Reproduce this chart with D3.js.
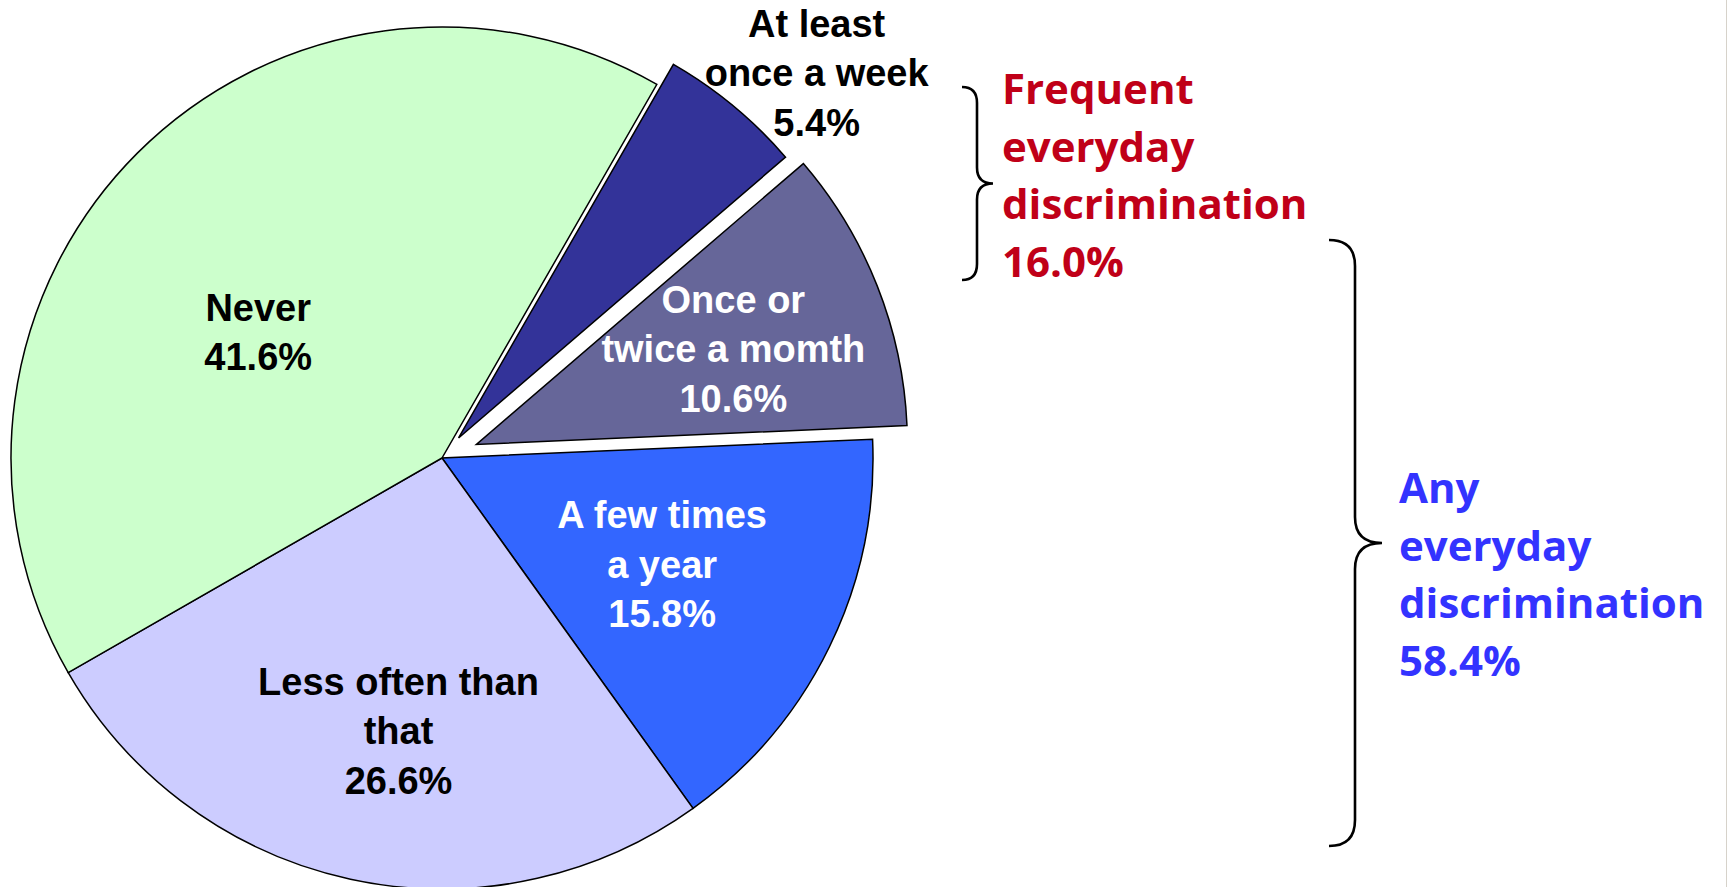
<!DOCTYPE html>
<html>
<head>
<meta charset="utf-8">
<script src="https://cdn.jsdelivr.net/npm/d3@7/dist/d3.min.js"></script>
<style>
  html, body { margin: 0; padding: 0; background: #ffffff; }
  svg { display: block; }
</style>
</head>
<body>
<script>
// Frequency of everyday discrimination (percent of respondents)
const categories = ["A few times a year", "Less often than that", "Never", "At least once a week", "Once or twice a momth"];
const values = [15.8, 26.6, 41.6, 5.4, 10.6];
const sliceLines = [
  ["A few times", "a year"],
  ["Less often than", "that"],
  ["Never"],
  ["At least", "once a week"],
  ["Once or", "twice a momth"]
];
const sliceColors = ["#3366FF", "#CCCCFF", "#CCFFCC", "#333399", "#666699"];
const sliceTextColors = ["#FFFFFF", "#000000", "#000000", "#000000", "#FFFFFF"];
// Group annotations: which categories each brace summarises
const frequentGroup = ["At least once a week", "Once or twice a momth"];
const anyGroup = ["A few times a year", "Less often than that", "At least once a week", "Once or twice a momth"];

const W = 1727, H = 887;
const cx = 442, cy = 458, R = 431;
const startDeg = 87.5;
// explode distance (px) for pulled-out slices
const explode = [0, 0, 0, 26, 37];
// label placement: [radius fraction, angle shift in degrees]
const labelPlace = [[0.567, -0.2], [0.641, -3.2], [0.517, -10.6], [1.187, 4.8], [0.636, 1.2]];

const svg = d3.select("body").append("svg").attr("width", W).attr("height", H);

const pie = d3.pie().sort(null).value(d => d)
  .startAngle(startDeg * Math.PI / 180)
  .endAngle(startDeg * Math.PI / 180 + 2 * Math.PI);
const arcs = pie(values);
const arc = d3.arc().innerRadius(0).outerRadius(R);

const g = svg.append("g").attr("transform", `translate(${cx},${cy})`);

function offsetOf(d, i) {
  const mid = (d.startAngle + d.endAngle) / 2;
  return [Math.sin(mid) * explode[i], -Math.cos(mid) * explode[i]];
}

g.selectAll("path.slice")
  .data(arcs)
  .join("path")
  .attr("class", "slice")
  .attr("d", arc)
  .attr("transform", (d, i) => { const o = offsetOf(d, i); return `translate(${o[0]},${o[1]})`; })
  .attr("fill", (d, i) => sliceColors[i])
  .attr("stroke", "#000")
  .attr("stroke-width", 1.5)
  .attr("stroke-linejoin", "miter");

// slice labels
const fs = 38, lh = 49.5;
arcs.forEach((d, i) => {
  const o = offsetOf(d, i);
  const a = (d.startAngle + d.endAngle) / 2 + labelPlace[i][1] * Math.PI / 180;
  const rr = R * labelPlace[i][0];
  const x = o[0] + Math.sin(a) * rr;
  const y = o[1] - Math.cos(a) * rr;
  const lines = sliceLines[i].concat([values[i].toFixed(1) + "%"]);
  const t = g.append("text")
    .attr("text-anchor", "middle")
    .attr("font-family", "'Liberation Sans', Arial, sans-serif")
    .attr("font-weight", "bold")
    .attr("font-size", fs)
    .attr("fill", sliceTextColors[i]);
  lines.forEach((ln, k) => {
    t.append("tspan")
      .attr("x", x)
      .attr("y", y + (k - (lines.length - 1) / 2) * lh + fs * 0.355)
      .text(ln);
  });
});

// curly brace helper
function brace(xEnd, xBar, xTip, yTop, yBot, rad) {
  const ym = (yTop + yBot) / 2;
  return `M${xEnd},${yTop} Q${xBar},${yTop} ${xBar},${yTop + rad}` +
    ` L${xBar},${ym - rad} Q${xBar},${ym} ${xTip},${ym}` +
    ` Q${xBar},${ym} ${xBar},${ym + rad}` +
    ` L${xBar},${yBot - rad} Q${xBar},${yBot} ${xEnd},${yBot}`;
}

svg.append("path")
  .attr("d", brace(962, 977, 993, 87, 280, 16))
  .attr("fill", "none").attr("stroke", "#000").attr("stroke-width", 2.6);
svg.append("path")
  .attr("d", brace(1329, 1355, 1382, 240, 846, 26))
  .attr("fill", "none").attr("stroke", "#000").attr("stroke-width", 2.6);

const sumOf = names => d3.sum(names, n => values[categories.indexOf(n)]);

function groupLabel(x, y0, lines, color) {
  const t = svg.append("text")
    .attr("font-family", "'Open Sans', 'Noto Sans', sans-serif")
    .attr("font-weight", 700)
    .attr("font-size", 42)
    .attr("fill", color);
  lines.forEach((ln, k) => {
    t.append("tspan").attr("x", x).attr("y", y0 + k * 57.5).text(ln);
  });
}

groupLabel(1002, 104, ["Frequent", "everyday", "discrimination", sumOf(frequentGroup).toFixed(1) + "%"], "#C00018");
groupLabel(1399, 503, ["Any", "everyday", "discrimination", sumOf(anyGroup).toFixed(1) + "%"], "#3333FF");

// thin frame edge on the right
svg.append("line")
  .attr("x1", W - 0.5).attr("x2", W - 0.5).attr("y1", 0).attr("y2", H)
  .attr("stroke", "#d6d2ca").attr("stroke-width", 1);
</script>
</body>
</html>
